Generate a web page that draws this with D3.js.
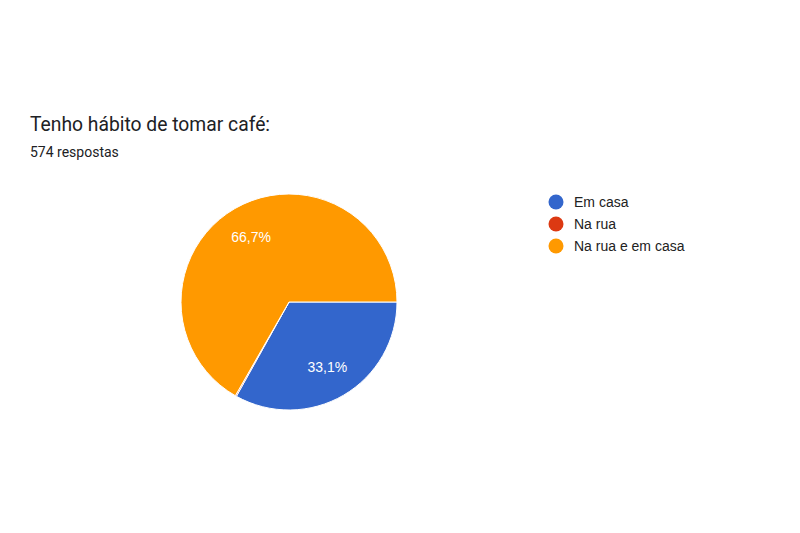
<!DOCTYPE html>
<html>
<head>
<meta charset="utf-8">
<script src="https://cdn.jsdelivr.net/npm/d3@7"></script>
<style>
  body { margin: 0; background: #fff; }
  text { font-family: Roboto, Arial, sans-serif; }
  .chart-text { font-family: Arial, "Liberation Sans", sans-serif; }
</style>
</head>
<body>
<div class="chart"></div>
<script>
// chart data
var categories = ["Em casa", "Na rua", "Na rua e em casa"];
var responses = [190, 1, 383];
var colors = ["#3366cc", "#dc3912", "#ff9900"];
var totalLabel = "574 respostas";
var titleText = "Tenho hábito de tomar café:";

var svgWidth = 800;
var svgHeight = 533;

var svg = d3.select(".chart")
  .append("svg")
  .attr("width", svgWidth)
  .attr("height", svgHeight);

// title + subtitle
svg.append("text")
  .attr("x", 30)
  .attr("y", 131)
  .attr("font-size", 19.3)
  .attr("fill", "#202124")
  .text(titleText);

svg.append("text")
  .attr("x", 30)
  .attr("y", 157)
  .attr("font-size", 14)
  .attr("fill", "#202124")
  .text(totalLabel);

// pie
var cx = 289, cy = 302, radius = 108;
var total = d3.sum(responses);

var pie = d3.pie()
  .sort(null)
  .startAngle(Math.PI / 2)
  .endAngle(Math.PI / 2 + 2 * Math.PI);

var arc = d3.arc().innerRadius(0).outerRadius(radius);
var labelArc = d3.arc().innerRadius(radius * 0.7).outerRadius(radius * 0.7);

var pieGroup = svg.append("g")
  .attr("transform", `translate(${cx}, ${cy})`);

var slices = pie(responses);

pieGroup.selectAll("path")
  .data(slices)
  .enter()
  .append("path")
  .attr("d", arc)
  .attr("fill", (d, i) => colors[i])
  .attr("stroke", "#fff")
  .attr("stroke-width", 1);

// percentage labels (only for big enough slices)
var fmt = v => (v * 100).toFixed(1).replace(".", ",") + "%";
pieGroup.selectAll("text")
  .data(slices.filter(d => d.value / total > 0.05))
  .enter()
  .append("text")
  .attr("class", "chart-text")
  .attr("transform", d => `translate(${labelArc.centroid(d)})`)
  .attr("text-anchor", "middle")
  .attr("dy", ".35em")
  .attr("font-size", 14)
  .attr("fill", "#fff")
  .text(d => fmt(d.value / total));

// legend
var legend = svg.append("g")
  .attr("transform", "translate(556, 202)");

var rows = legend.selectAll("g")
  .data(categories)
  .enter()
  .append("g")
  .attr("transform", (d, i) => `translate(0, ${i * 22})`);

rows.append("circle")
  .attr("r", 7.5)
  .attr("fill", (d, i) => colors[i]);

rows.append("text")
  .attr("class", "chart-text")
  .attr("x", 18)
  .attr("dy", ".35em")
  .attr("font-size", 14)
  .attr("fill", "#222")
  .text(d => d);
</script>
</body>
</html>
